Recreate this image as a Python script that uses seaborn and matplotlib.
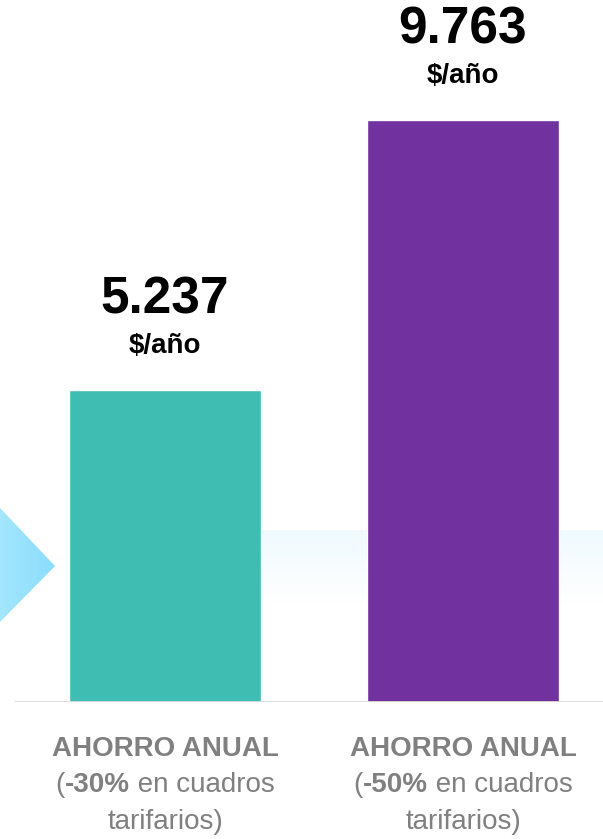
import numpy as np
import matplotlib
matplotlib.use("Agg")
import matplotlib.pyplot as plt
import seaborn as sns
from matplotlib.patches import Polygon
from matplotlib import font_manager

# data
categories = ["-30%", "-50%"]
savings = [5237, 9763]
value_labels = ["5.237", "9.763"]
unit_label = "$/año"
bar_colors = ["#40bdb2", "#71319f"]
label_title = "AHORRO ANUAL"

names = {f.name for f in font_manager.fontManager.ttflist}
fam = [n for n in ["Liberation Sans Narrow", "Liberation Sans", "DejaVu Sans"] if n in names]

sns.set_style("white")
plt.rcParams["font.family"] = fam

DPI = 100
W, H = 603, 839
fig = plt.figure(figsize=(W / DPI, H / DPI), dpi=DPI)
base_px = 702
ax = fig.add_axes([0, (H - base_px) / H, 1, base_px / H])

sns.barplot(x=categories, y=savings, hue=categories, palette=bar_colors,
            width=0.645, saturation=1, legend=False, ax=ax, zorder=3)

step = 298  # px between bar centers
ax.set_xlim(-165 / step, (W - 165) / step)
ax.set_ylim(0, max(savings) * base_px / 582)
ax.set_axis_off()

# light blue band behind the bars
grad = np.linspace(0, 1, 100).reshape(-1, 1)
band = matplotlib.colors.LinearSegmentedColormap.from_list("band", ["#ffffff", "#f0fafe"])
ax.imshow(grad, cmap=band, aspect="auto", origin="lower", transform=ax.transAxes,
          extent=[0.35, 1, 0.14, 0.245], zorder=0)

# chevron on the left edge
chev = Polygon([(0, (base_px - 508) / base_px), (55 / W, (base_px - 566) / base_px),
                (0, (base_px - 622) / base_px)], closed=True, transform=ax.transAxes,
               facecolor="none", edgecolor="none")
ax.add_patch(chev)
hgrad = np.linspace(0, 1, 100).reshape(1, -1)
chev_cm = matplotlib.colors.LinearSegmentedColormap.from_list("chev", ["#a3e6fd", "#8bdcfc"])
img = ax.imshow(hgrad, cmap=chev_cm, aspect="auto", transform=ax.transAxes,
                extent=[0, 55 / W, (base_px - 622) / base_px, (base_px - 508) / base_px], zorder=1)
img.set_clip_path(chev)

# baseline
ax.axhline(0, xmin=15 / W, xmax=1, color="#d9d9d9", lw=2, zorder=4)

pt = 72 / DPI
for i, (v, lab) in enumerate(zip(savings, value_labels)):
    ax.annotate(lab, xy=(i, v), xytext=(0, 76 * pt), textcoords="offset points",
                ha="center", va="baseline", fontsize=37, fontweight="bold", color="black")
    ax.annotate(unit_label, xy=(i, v), xytext=(0, 37 * pt), textcoords="offset points",
                ha="center", va="baseline", fontsize=20, fontweight="bold", color="black")

# category labels with mixed weights
renderer = fig.canvas.get_renderer()
gray = "#808080"
fs = 20


def mixed_line(x, dy_px, pieces):
    objs = []
    for txt, wt in pieces:
        t = ax.annotate(txt, xy=(x, 0), xytext=(0, 0), textcoords="offset points",
                        ha="left", va="baseline", fontsize=fs, fontweight=wt, color=gray)
        objs.append(t)
    widths = [t.get_window_extent(renderer).width for t in objs]
    start = -sum(widths) / 2
    for t, w in zip(objs, widths):
        t.set_position((start * pt, -dy_px * pt))
        start += w


for i, c in enumerate(categories):
    mixed_line(i, 54, [(label_title, "bold")])
    mixed_line(i, 90, [("(", "normal"), (c, "bold"), (" en cuadros", "normal")])
    mixed_line(i, 127, [("tarifarios)", "normal")])

fig.savefig("out.png", dpi=DPI)
